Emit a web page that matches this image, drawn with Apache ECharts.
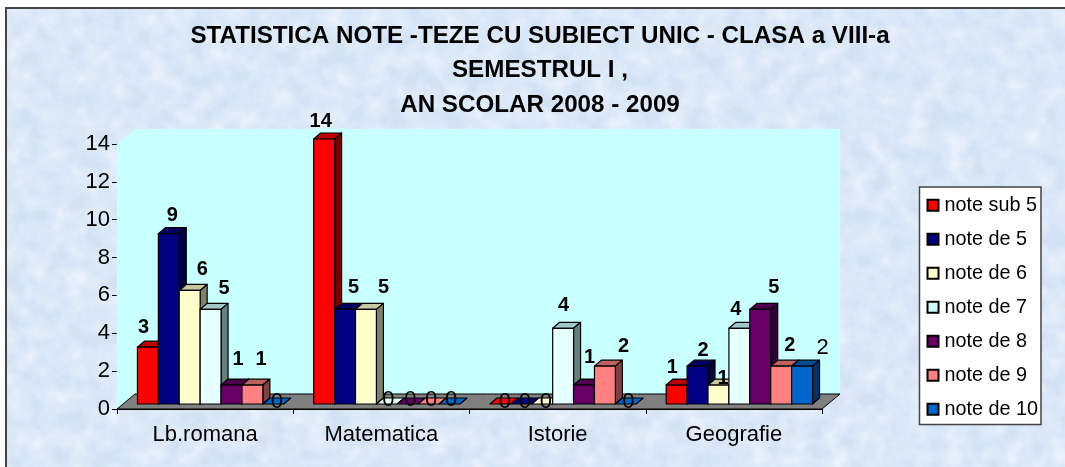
<!DOCTYPE html>
<html><head><meta charset="utf-8">
<style>
html,body{margin:0;padding:0;background:#fff;width:1065px;height:467px;overflow:hidden}
#frame{position:absolute;left:5px;top:7px;width:1060px;height:460px;border-left:2px solid #444;border-top:2px solid #444;box-sizing:border-box;
background-color:#d2e2f4;
background-image:url("data:image/svg+xml,%3Csvg xmlns='http://www.w3.org/2000/svg' width='1065' height='467'%3E%3Cfilter id='n' x='0' y='0' width='100%25' height='100%25'%3E%3CfeTurbulence type='fractalNoise' baseFrequency='0.05' numOctaves='4' seed='7'/%3E%3CfeColorMatrix values='0 0 0 0 0.93  0 0 0 0 0.95  0 0 0 0 1  1.1 0 0 0 -0.3'/%3E%3C/filter%3E%3Crect width='1065' height='467' filter='url(%23n)'/%3E%3C/svg%3E");}
#chart{position:absolute;left:0;top:0;width:1065px;height:467px}
</style>
<script src="https://cdn.jsdelivr.net/npm/echarts@6/dist/echarts.min.js"></script>
</head><body>
<div id="frame"></div>
<div id="chart"></div>
<script>
const categories = ['Lb.romana','Matematica','Istorie','Geografie'];
const seriesNames = ['note sub 5','note de 5','note de 6','note de 7','note de 8','note de 9','note de 10'];
const noteSub5 = [3,14,0,1];
const note5 = [9,5,0,2];
const note6 = [6,5,0,1];
const note7 = [5,0,4,4];
const note8 = [1,0,1,5];
const note9 = [1,0,2,2];
const note10 = [0,0,0,2];
const seriesValues = [noteSub5,note5,note6,note7,note8,note9,note10];
const yTicks = {min:0,max:14,interval:2};
const titleLines = ['STATISTICA NOTE -TEZE CU SUBIECT UNIC - CLASA a VIII-a','SEMESTRUL I ,','AN SCOLAR 2008 - 2009'];

// styling
const faces = [
 {front:'#ff0000',top:'#c00000',side:'#800000'},
 {front:'#000080',top:'#000060',side:'#000040'},
 {front:'#ffffcc',top:'#c8c8a0',side:'#808066'},
 {front:'#e6ffff',top:'#a0c8c8',side:'#668080'},
 {front:'#660066',top:'#4c004c',side:'#330033'},
 {front:'#ff8080',top:'#c06060',side:'#804040'},
 {front:'#0066cc',top:'#004c99',side:'#003366'}
];
// hand placement of each value label: [dx from bar left, dy above bar top]
const labelPlace = [
 [[6,20],[7,18],[15,2],[6,18]],
 [[14,18],[19,22],[14,2],[16,16]],
 [[23,21],[28,22],[14,2],[15,7]],
 [[24,21],[12,4],[11,23],[7,19]],
 [[17,26],[13,4],[16,28],[24,22]],
 [[19,26],[13,4],[29,20],[19,21]],
 [[14,2],[12,4],[13,2],[31,18]]
];
const FONT = '"Liberation Sans", Arial, sans-serif';
const DEPTH_X = 18, DEPTH_Y = 15;    // plot depth
const BAR_DX = 7, BAR_DY = 6;        // bar depth
const BAR_W = 0.1186, BAR_OFF = 0.116, BASE_UP = 5;

function poly(pts, fill, lw){
  return {type:'polygon',shape:{points:pts},style:{fill:fill,stroke:'#000',lineWidth:lw===undefined?1.2:lw,lineJoin:'round'}};
}
function barGeom(api, s, cat, v){
  const band = api.size([1,0])[0];
  const base = api.coord([cat,0]);
  const top = api.coord([cat,v]);
  const x = base[0]-band/2+band*(BAR_OFF+s*BAR_W);
  return {x:x,w:band*BAR_W,y0:base[1]-BASE_UP,y1:top[1]-BASE_UP};
}
const series = [];
// the plot box: walls and floor
series.push({
  type:'custom',name:'plot',silent:true,z:1,
  data:[[0]],
  renderItem:function(p,api){
    const band = api.size([1,0])[0];
    const l = api.coord([0,0])[0]-band/2, r = api.coord([categories.length-1,0])[0]+band/2;
    const y0 = api.coord([0,yTicks.min])[1], y1 = api.coord([0,yTicks.max])[1];
    const n = {fill:'#c8ffff',stroke:'#c8ffff',lineWidth:0.5};
    return {type:'group',children:[
      {type:'polygon',shape:{points:[[l,y0],[l+DEPTH_X,y0-DEPTH_Y],[l+DEPTH_X,y1-DEPTH_Y],[l,y1]]},style:n},
      {type:'polygon',shape:{points:[[l+DEPTH_X,y0-DEPTH_Y],[r+DEPTH_X,y0-DEPTH_Y],[r+DEPTH_X,y1-DEPTH_Y],[l+DEPTH_X,y1-DEPTH_Y]]},style:n},
      poly([[l,y0],[r,y0],[r+DEPTH_X,y0-DEPTH_Y],[l+DEPTH_X,y0-DEPTH_Y]],'#808080',1)
    ]};
  }
});
seriesNames.forEach(function(name,s){
  const f = faces[s];
  series.push({
    type:'custom',name:name,z:2,silent:true,
    itemStyle:{color:s===3?'#ccffff':f.front,borderColor:'#000',borderWidth:1.5},
    encode:{x:0,y:1},
    data:seriesValues[s].map(function(v,c){return [c,v];}),
    renderItem:function(p,api){
      const cat = api.value(0), v = api.value(1);
      const g = barGeom(api,s,cat,v);
      const kids = [];
      kids.push(poly([[g.x,g.y1],[g.x+BAR_DX,g.y1-BAR_DY],[g.x+g.w+BAR_DX,g.y1-BAR_DY],[g.x+g.w,g.y1]],v===0?f.front:f.top));
      if(v>0){
        kids.push(poly([[g.x+g.w,g.y1],[g.x+g.w+BAR_DX,g.y1-BAR_DY],[g.x+g.w+BAR_DX,g.y0-BAR_DY],[g.x+g.w,g.y0]],f.side));
        kids.push({type:'rect',shape:{x:g.x,y:g.y1,width:g.w,height:g.y0-g.y1},style:{fill:f.front,stroke:'#000',lineWidth:1.2}});
      }
      return {type:'group',children:kids};
    }
  });
  series.push({
    type:'custom',name:name+' labels',z:4,silent:true,
    encode:{x:0,y:1},
    data:seriesValues[s].map(function(v,c){return [c,v];}),
    renderItem:function(p,api){
      const cat = api.value(0), v = api.value(1);
      const g = barGeom(api,s,cat,v);
      const pl = labelPlace[s][cat];
      const plain = v===0 || s===6;
      return {type:'text',x:g.x+pl[0],y:g.y1-pl[1],style:{text:String(v),fill:'#000',
        font:(plain?'22px ':'bold 20px ')+FONT,align:'center',verticalAlign:'middle'}};
    }
  });
});
const chart = echarts.init(document.getElementById('chart'),null,{renderer:'canvas'});
chart.setOption({
  animation:false,
  backgroundColor:'transparent',
  title:{text:titleLines.join('\n'),left:535,top:14,textAlign:'center',
    textStyle:{fontFamily:FONT,fontWeight:'bold',fontSize:24.2,lineHeight:34.5,color:'#000'}},
  legend:{data:seriesNames,orient:'vertical',right:24,top:187,
    backgroundColor:'#fff',borderColor:'#444',borderWidth:1.5,padding:[8,3,5,7],
    itemWidth:11,itemHeight:11,itemGap:13.5,selectedMode:false,icon:'rect',
    textStyle:{fontFamily:FONT,fontSize:19.8,color:'#000',padding:[0,0,0,1],lineHeight:20.5}},
  grid:{left:117,right:243,top:144,bottom:58},
  xAxis:{type:'category',data:categories,boundaryGap:true,
    axisLine:{show:true,onZero:false,lineStyle:{color:'#000',width:1}},
    axisTick:{show:true,alignWithLabel:false,length:5,lineStyle:{color:'#000'}},
    axisLabel:{fontFamily:FONT,fontSize:22,color:'#000',margin:15},
    splitLine:{show:false}},
  yAxis:{type:'value',min:yTicks.min,max:yTicks.max,interval:yTicks.interval,
    axisLine:{show:true,lineStyle:{color:'#000',width:1}},
    axisTick:{show:true,length:5,lineStyle:{color:'#000'}},
    axisLabel:{fontFamily:FONT,fontSize:22,color:'#000',margin:7},
    splitLine:{show:false}},
  series:series
});
</script>
</body></html>
